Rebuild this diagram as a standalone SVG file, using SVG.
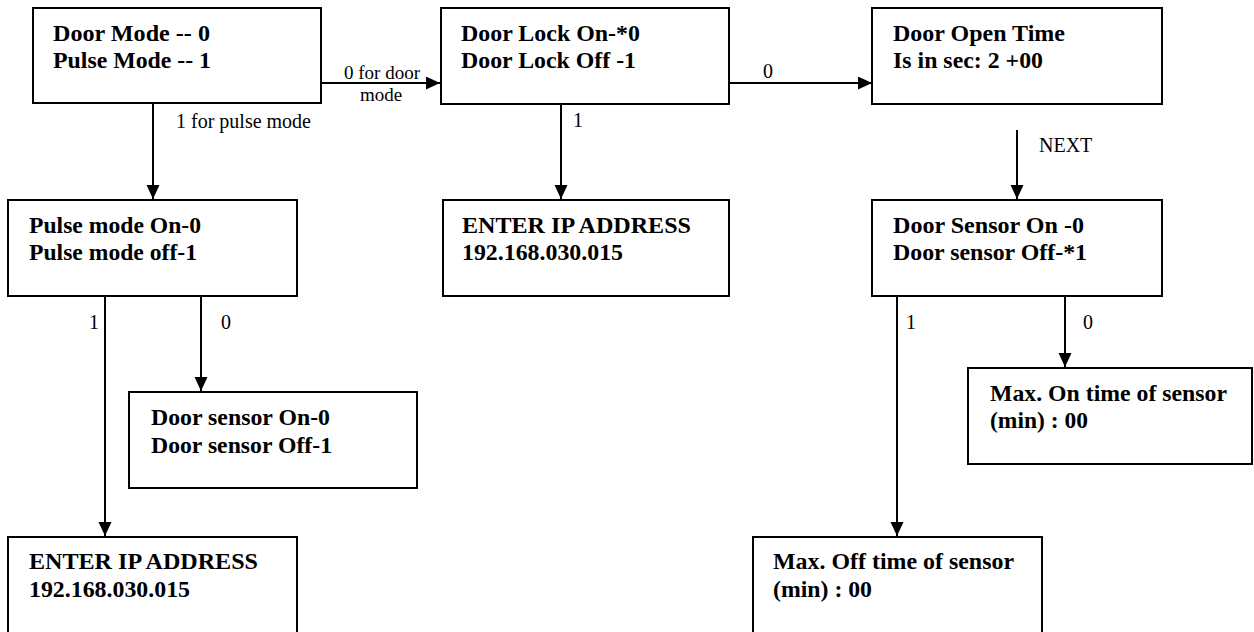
<svg xmlns="http://www.w3.org/2000/svg" width="1254" height="632" viewBox="0 0 1254 632">
<style>
.box{fill:#fff;stroke:#000;stroke-width:2}
.t{font-family:"Liberation Serif","Times New Roman",serif;font-weight:bold;font-size:23px;fill:#000}
.l{font-family:"Liberation Serif","Times New Roman",serif;font-size:20px;fill:#000}
.s{font-size:19px}
.c{fill:none;stroke:#000;stroke-width:2}
</style>
<defs>
<marker id="ah" markerUnits="userSpaceOnUse" markerWidth="15" markerHeight="14" refX="14" refY="6.5" orient="auto">
<path d="M0,0 L14,6.5 L0,13 z" fill="#000"/>
</marker>
</defs>
<rect width="1254" height="632" fill="#fff"/>
<g id="connectors">
<line class="c" x1="321" y1="83" x2="440" y2="83" marker-end="url(#ah)"/>
<line class="c" x1="729" y1="83" x2="872" y2="83" marker-end="url(#ah)"/>
<line class="c" x1="153" y1="103" x2="153" y2="199" marker-end="url(#ah)"/>
<line class="c" x1="561" y1="104" x2="561" y2="199" marker-end="url(#ah)"/>
<line class="c" x1="1017" y1="130" x2="1017" y2="199" marker-end="url(#ah)"/>
<line class="c" x1="105" y1="296" x2="105" y2="536" marker-end="url(#ah)"/>
<line class="c" x1="201" y1="296" x2="201" y2="391" marker-end="url(#ah)"/>
<line class="c" x1="897" y1="296" x2="897" y2="536" marker-end="url(#ah)"/>
<line class="c" x1="1065" y1="296" x2="1065" y2="367" marker-end="url(#ah)"/>
<text class="l s" x="344" y="79">0 for door</text>
<text class="l s" x="360" y="101">mode</text>
<text class="l" x="176" y="128">1 for pulse mode</text>
<text class="l" x="763" y="78">0</text>
<text class="l" x="573" y="127">1</text>
<text class="l" x="1039" y="152">NEXT</text>
<text class="l" x="89" y="329">1</text>
<text class="l" x="221" y="329">0</text>
<text class="l" x="906" y="329">1</text>
<text class="l" x="1083" y="329">0</text>
</g>
<g id="n-door-mode">
<rect class="box" x="33" y="8" width="288" height="95"/>
<text class="t" x="53" y="41" textLength="157" lengthAdjust="spacingAndGlyphs">Door Mode -- 0</text>
<text class="t" x="53" y="68" textLength="158" lengthAdjust="spacingAndGlyphs">Pulse Mode -- 1</text>
</g>
<g id="n-door-lock">
<rect class="box" x="441" y="8" width="288" height="96"/>
<text class="t" x="461" y="41" textLength="179" lengthAdjust="spacingAndGlyphs">Door Lock On-*0</text>
<text class="t" x="461" y="68" textLength="175" lengthAdjust="spacingAndGlyphs">Door Lock Off -1</text>
</g>
<g id="n-door-open">
<rect class="box" x="872" y="8" width="290" height="96"/>
<text class="t" x="893" y="41" textLength="172" lengthAdjust="spacingAndGlyphs">Door Open Time</text>
<text class="t" x="893" y="68" textLength="150" lengthAdjust="spacingAndGlyphs">Is in sec: 2 +00</text>
</g>
<g id="n-pulse-mode">
<rect class="box" x="8" y="200" width="289" height="96"/>
<text class="t" x="29" y="233" textLength="172" lengthAdjust="spacingAndGlyphs">Pulse mode On-0</text>
<text class="t" x="29" y="260" textLength="168" lengthAdjust="spacingAndGlyphs">Pulse mode off-1</text>
</g>
<g id="n-ip-mid">
<rect class="box" x="443" y="200" width="286" height="96"/>
<text class="t" x="462" y="233" textLength="229" lengthAdjust="spacingAndGlyphs">ENTER IP ADDRESS</text>
<text class="t" x="462" y="260" textLength="161" lengthAdjust="spacingAndGlyphs">192.168.030.015</text>
</g>
<g id="n-door-sensor-r">
<rect class="box" x="872" y="200" width="290" height="96"/>
<text class="t" x="893" y="233" textLength="191" lengthAdjust="spacingAndGlyphs">Door Sensor On -0</text>
<text class="t" x="893" y="260" textLength="194" lengthAdjust="spacingAndGlyphs">Door sensor Off-*1</text>
</g>
<g id="n-door-sensor-l">
<rect class="box" x="129" y="392" width="288" height="96"/>
<text class="t" x="151" y="425" textLength="179" lengthAdjust="spacingAndGlyphs">Door sensor On-0</text>
<text class="t" x="151" y="453" textLength="181" lengthAdjust="spacingAndGlyphs">Door sensor Off-1</text>
</g>
<g id="n-max-on">
<rect class="box" x="968" y="368" width="284" height="96"/>
<text class="t" x="990" y="401" textLength="237" lengthAdjust="spacingAndGlyphs">Max. On time of sensor</text>
<text class="t" x="990" y="428" textLength="98" lengthAdjust="spacingAndGlyphs">(min) : 00</text>
</g>
<g id="n-ip-left">
<rect class="box" x="8" y="537" width="289" height="100"/>
<text class="t" x="29" y="569" textLength="229" lengthAdjust="spacingAndGlyphs">ENTER IP ADDRESS</text>
<text class="t" x="29" y="597" textLength="161" lengthAdjust="spacingAndGlyphs">192.168.030.015</text>
</g>
<g id="n-max-off">
<rect class="box" x="753" y="537" width="289" height="100"/>
<text class="t" x="773" y="569" textLength="241" lengthAdjust="spacingAndGlyphs">Max. Off time of sensor</text>
<text class="t" x="773" y="597" textLength="99" lengthAdjust="spacingAndGlyphs">(min) : 00</text>
</g>
</svg>
